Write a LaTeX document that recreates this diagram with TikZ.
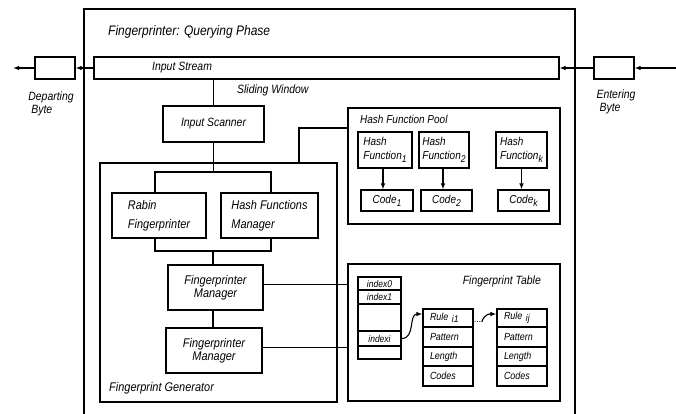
\documentclass[tikz,border=0pt]{standalone}
\usepackage{fontspec}
\setmainfont{Liberation Sans}[FakeStretch=0.87]
\usetikzlibrary{arrows.meta,calc}
\newcommand\lowsub[1]{\raisebox{-0.45ex}{\fontsize{9.8}{10}\selectfont #1}}
\newcommand\fsT{\fontsize{13.8}{15}\selectfont\itshape}
\newcommand\fsA{\fontsize{12}{13}\selectfont\itshape}
\newcommand\fsB{\fontsize{12.6}{13}\selectfont\itshape}
\newcommand\fsC{\fontsize{11.5}{14}\selectfont\itshape}
\newcommand\fsD{\fontsize{10.3}{11}\selectfont\itshape}
\newcommand\fsE{\fontsize{9.8}{10}\selectfont\itshape}
\tikzset{
  box/.style={draw, line width=1.1pt, rectangle, inner sep=0pt},
  cell/.style={draw, line width=1.1pt, rectangle, inner sep=0pt, font=\fsE},
  rcell/.style={draw, line width=1.1pt, rectangle, inner ysep=0pt, inner xsep=7pt,
     text width=36pt, align=left, font=\fsD, minimum height=19pt},
  conn/.style={line width=1.1pt},
  arr/.style={line width=1.1pt, -{Latex[length=6pt,width=4.5pt]}},
  lbl/.style={inner sep=0pt}
}
\begin{document}
\begin{tikzpicture}[x=1pt,y=-1pt]
\useasboundingbox (0,0) rectangle (676,414);
% outer frame
\draw[conn] (84,414) -- (84,9) -- (575,9) -- (575,414);
\node[lbl, anchor=west, font=\fsT] (title) at (108,32) {Fingerprinter: Querying Phase};

% input stream
\node[box, minimum width=465pt, minimum height=22pt] (stream) at (326.5,68) {};
\node[lbl, anchor=west, font=\fsA] (streamtext) at (152,68) {Input Stream};
\node[box, minimum width=40pt, minimum height=22pt] (depart) at (55,68) {};
\node[box, minimum width=40pt, minimum height=22pt] (enter) at (614,68) {};
\coordinate (leftend) at (13,68);
\coordinate (rightend) at (676,68);
\draw[arr] (stream.west) -- (depart.east);
\draw[arr] (depart.west) -- (leftend);
\draw[arr] (rightend) -- (enter.east);
\draw[arr] (enter.west) -- (stream.east);
\node[lbl, align=left, font=\fsA] (departlbl) at (51,103.5) {Departing\\\hspace*{3pt}Byte};
\node[lbl, align=left, font=\fsA] (enterlbl) at (616,101.5) {Entering\\\hspace*{3pt}Byte};

\node[lbl, anchor=west, font=\fsA] (slide) at (237,90) {Sliding Window};

% scanner
\node[box, minimum width=101pt, minimum height=36pt, font=\fsA] (scanner) at (213.5,124) {Input Scanner};
\draw[conn] (scanner.north |- stream.south) -- (scanner.north);

% generator
\node[box, minimum width=237pt, minimum height=239pt] (gen) at (218.5,282.5) {};
\node[lbl, anchor=west, font=\fsB] (genlbl) at (109,388) {Fingerprint Generator};
\node[box, minimum width=94pt, minimum height=45pt, align=left, font=\fsB] (rabin) at (159,215.5)
  {Rabin\\[6pt]Fingerprinter};
\node[box, minimum width=97pt, minimum height=45pt, align=left, font=\fsB] (hfm) at (269.5,215.5)
  {Hash Functions\\[6pt]Manager};
\node[box, minimum width=95pt, minimum height=45pt, align=center, font=\fsB] (fm1) at (215.5,287.5)
  {Fingerprinter\\Manager};
\node[box, minimum width=96pt, minimum height=45pt, align=center, font=\fsB] (fm2) at (214,350.5)
  {Fingerprinter\\Manager};
\coordinate (split) at (213.5,172);
\coordinate (merge) at (213,251);
\draw[conn] (scanner.south) -- (split);
\draw[conn] ([xshift=-4pt]rabin.north) |- (split) -| ([xshift=1.5pt]hfm.north);
\draw[conn] ([xshift=-4pt]rabin.south) |- (merge) -| ([xshift=1.5pt]hfm.south);
\draw[conn] (merge) -- (merge |- fm1.north);
\draw[conn] (merge |- fm1.south) -- (merge |- fm2.north);

% hash function pool
\node[box, minimum width=212pt, minimum height=116pt] (pool) at (454,166) {};
\node[lbl, anchor=west, font=\fsC] (poollbl) at (360,119) {Hash Function Pool};
\draw[conn] ([xshift=80.5pt]gen.north) |- ([yshift=38pt]pool.west);
\node[box, minimum width=54pt, minimum height=36pt, align=left, font=\fsC] (hf1) at (385,150)
  {Hash\\Function\lowsub{1}};
\node[box, minimum width=50pt, minimum height=36pt, align=left, font=\fsC] (hf2) at (444,150)
  {Hash\\Function\lowsub{2}};
\node[box, minimum width=51pt, minimum height=36pt, align=left, font=\fsC] (hfk) at (521.5,150)
  {Hash\\Function\lowsub{k}};
\node[box, minimum width=52pt, minimum height=21pt, font=\fsC] (code1) at (387,200.5) {Code\lowsub{1}};
\node[box, minimum width=51pt, minimum height=21pt, font=\fsC] (code2) at (446.5,200.5) {Code\lowsub{2}};
\node[box, minimum width=51pt, minimum height=21pt, font=\fsC] (codek) at (523.5,200.5) {Code\lowsub{k}};
\draw[arr] ([xshift=-2pt]hf1.south) -- ([xshift=-2pt]hf1.south |- code1.north);
\draw[arr] ([xshift=-1pt]hf2.south) -- ([xshift=-1pt]hf2.south |- code2.north);
\draw[arr] (hfk.south) -- (hfk.south |- codek.north);

% fingerprint table
\node[box, minimum width=212pt, minimum height=137pt] (table) at (454,332.5) {};
\node[lbl, anchor=east, font=\fsA] (tablelbl) at (541,281) {Fingerprint Table};
\draw[conn] ([yshift=3pt]fm1.east) -- ([yshift=3pt]fm1.east -| table.west);
\draw[conn] ([yshift=3pt]fm2.east) -- ([yshift=3pt]fm2.east -| table.west);

\node[cell, minimum width=43pt, minimum height=13pt] (idx0) at (379.5,283.5) {index0};
\node[cell, minimum width=43pt, minimum height=14pt] (idx1) at (379.5,297) {index1};
\node[cell, minimum width=43pt, minimum height=27pt] (idxb) at (379.5,317.5) {};
\node[cell, minimum width=43pt, minimum height=15pt] (idxi) at (379.5,338.5) {indexi};
\node[cell, minimum width=43pt, minimum height=13pt] (idxl) at (379.5,352.5) {};

\node[rcell, minimum height=18pt] (r1) at (448,318) {Rule \lowsub{i1}};
\node[rcell, minimum height=20pt] (p1) at (448,337) {Pattern};
\node[rcell, minimum height=19pt] (l1) at (448,356.5) {Length};
\node[rcell, minimum height=20pt] (c1) at (448,376) {Codes};
\node[rcell, minimum height=18pt] (r2) at (522,318) {Rule \lowsub{ij}};
\node[rcell, minimum height=20pt] (p2) at (522,337) {Pattern};
\node[rcell, minimum height=19pt] (l2) at (522,356.5) {Length};
\node[rcell, minimum height=20pt] (c2) at (522,376) {Codes};

\node[lbl, font=\fsE] (dots) at (478,322) {...};
\draw[arr] (idxi.east) .. controls +(14pt,0pt) and +(-14pt,0pt) .. ([yshift=4pt]r1.west);
\draw[arr] (dots.east) .. controls +(3pt,9pt) and +(-6pt,0pt) .. ([yshift=4pt]r2.west);
\end{tikzpicture}
\end{document}
